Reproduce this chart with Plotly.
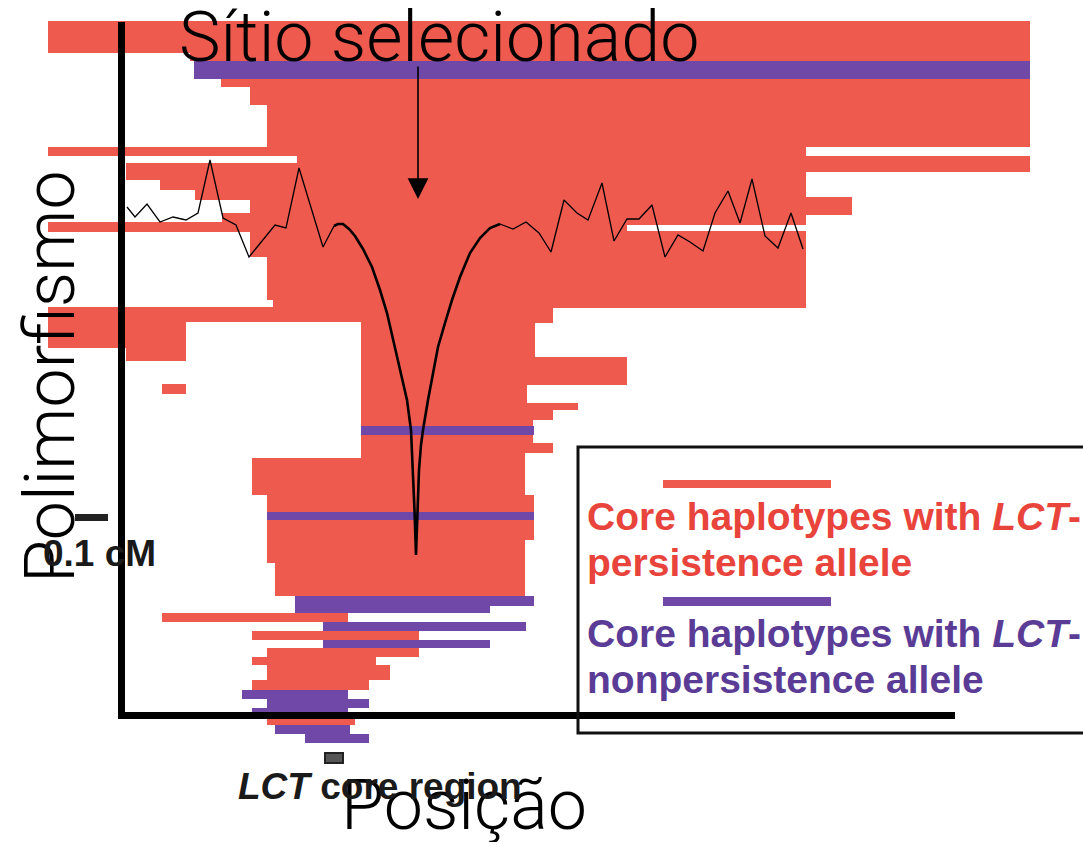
import plotly.graph_objects as go

# Haplotype rows: (top, bottom, start, end) in chart units
persist_rows = [
    (21, 53, 48, 1030), (53, 61, 190, 1030),
    (79, 87, 221, 1030), (87, 105, 250, 1030), (105, 147, 267, 1030),
    (147, 156, 48, 806), (156, 163, 297, 1030), (163, 172, 126, 1030),
    (172, 180, 126, 806), (180, 190, 160, 806), (190, 197, 195, 806),
    (197, 200, 195, 852), (200, 213, 250, 852), (213, 215, 222, 852),
    (215, 222, 222, 806), (222, 232, 48, 627), (222, 225, 627, 806),
    (231, 257, 250, 806), (257, 300, 267, 806), (300, 308, 273, 806),
    (307, 323, 48, 553), (323, 348, 48, 535), (348, 357, 126, 535),
    (357, 361, 126, 627), (361, 385, 250, 627), (384, 394, 162, 250),
    (385, 403, 250, 527), (403, 410, 250, 578), (410, 420, 250, 553),
    (420, 426, 250, 533), (435, 443, 250, 533), (443, 453, 250, 553),
    (453, 495, 252, 525), (495, 512, 267, 534), (520, 540, 267, 534),
    (540, 563, 267, 525), (563, 596, 275, 525), (613, 622, 162, 348),
    (631, 640, 252, 419), (648, 657, 267, 419), (657, 665, 252, 376),
    (665, 680, 267, 390), (680, 690, 252, 369), (713, 725, 267, 355),
]
nonpersist_rows = [
    (61, 79, 194, 1030), (426, 435, 250, 534), (512, 520, 267, 534),
    (596, 606, 295, 534), (606, 613, 295, 490), (622, 631, 323, 526),
    (640, 648, 323, 490), (690, 699, 242, 348), (699, 708, 267, 369),
    (708, 713, 252, 348), (725, 734, 275, 350), (734, 743, 305, 369),
]
core_region = (325, 343, 753, 763)

# Polymorphism profile along the region
poly_left_x = [127, 135, 147, 160, 173, 186, 198, 210, 223, 236, 249, 275, 286, 299, 323, 334]
poly_left_y = [207, 217, 204, 222, 217, 220, 213, 160, 218, 225, 257, 225, 228, 168, 247, 226]
dip_x = [334, 338, 343, 349, 355, 363, 372, 380, 387, 395, 401, 407, 411, 413, 414.5, 416,
         417.5, 419, 421, 423, 428, 433, 438, 445, 452, 460, 470, 480, 490, 500]
dip_y = [226, 224, 224, 229, 236, 249, 267, 290, 313, 347, 375, 400, 430, 470, 510, 555,
         510, 470, 445, 430, 400, 372, 347, 323, 300, 277, 253, 238, 228, 224]
poly_right_x = [500, 513, 526, 539, 551, 564, 577, 588, 602, 614, 627, 639, 652, 665, 678,
                690, 703, 715, 728, 740, 752, 765, 778, 791, 803]
poly_right_y = [224, 229, 222, 233, 252, 200, 213, 220, 183, 241, 219, 219, 205, 257, 235,
                242, 251, 213, 191, 223, 179, 236, 248, 213, 249]

RED = "#EF5A4F"
PURPLE = "#6F48A8"
RED_TXT = "#E8443C"
PURPLE_TXT = "#5A3C96"


def bar_trace(rows, color, name):
    return go.Bar(
        orientation="h",
        y=[(t + b) / 2 for t, b, s, e in rows],
        x=[e - s for t, b, s, e in rows],
        base=[s for t, b, s, e in rows],
        width=[b - t for t, b, s, e in rows],
        marker=dict(color=color, line=dict(width=0)),
        name=name, showlegend=False, hoverinfo="skip",
    )


fig = go.Figure()
fig.add_trace(bar_trace(persist_rows, RED, "persistence"))
fig.add_trace(bar_trace(nonpersist_rows, PURPLE, "nonpersistence"))

for xs, ys, w in [(poly_left_x, poly_left_y, 1.3), (dip_x, dip_y, 2.6), (poly_right_x, poly_right_y, 1.3)]:
    fig.add_trace(go.Scatter(x=xs, y=ys, mode="lines", line=dict(color="black", width=w),
                             showlegend=False, hoverinfo="skip"))

shapes = []
# occluding panel
shapes.append(dict(type="rect", x0=186, x1=361, y0=322, y1=458, fillcolor="white",
                   line=dict(width=0), layer="above"))
# axes
shapes.append(dict(type="line", x0=121.5, x1=121.5, y0=22, y1=719, line=dict(color="black", width=7), layer="above"))
shapes.append(dict(type="line", x0=118, x1=955, y0=715.5, y1=715.5, line=dict(color="black", width=7), layer="above"))
# scale bar
shapes.append(dict(type="rect", x0=75, x1=108, y0=514, y1=521, fillcolor="#222222", line=dict(width=0), layer="above"))
# core region marker
cx0, cx1, cy0, cy1 = core_region
shapes.append(dict(type="rect", x0=cx0, x1=cx1, y0=cy0, y1=cy1, fillcolor="#555555",
                   line=dict(color="#222222", width=2), layer="above"))
# legend box and samples
shapes.append(dict(type="rect", x0=578, x1=1095, y0=447, y1=733, fillcolor="rgba(0,0,0,0)",
                   line=dict(color="#111111", width=3), layer="above"))
shapes.append(dict(type="rect", x0=663, x1=831, y0=480, y1=488, fillcolor=RED, line=dict(width=0), layer="above"))
shapes.append(dict(type="rect", x0=663, x1=831, y0=597, y1=606, fillcolor=PURPLE, line=dict(width=0), layer="above"))

thin = dict(family="Roboto", size=70, color="black", weight=300)
bold = dict(family="Liberation Sans", size=39, weight="bold")

annotations = [
    dict(text="Sítio selecionado", x=439, y=37, font=thin),
    dict(text="Posição", x=464, y=805, font=thin),
    dict(text="Polimorfismo", x=50, y=377, textangle=-90, font=thin),
    dict(text="0.1 cM", x=99, y=553, font=dict(family="Liberation Sans", size=37, weight="bold", color="#1a1a1a")),
    dict(text="<i>LCT</i> core region", x=380, y=786,
         font=dict(family="Liberation Sans", size=37, weight="bold", color="#1a1a1a")),
    dict(text="Core haplotypes with <i>LCT</i>-", x=585, y=516, xanchor="left", font=dict(bold, color=RED_TXT)),
    dict(text="persistence allele", x=585, y=562, xanchor="left", font=dict(bold, color=RED_TXT)),
    dict(text="Core haplotypes with <i>LCT</i>-", x=585, y=633, xanchor="left", font=dict(bold, color=PURPLE_TXT)),
    dict(text="nonpersistence allele", x=585, y=679, xanchor="left", font=dict(bold, color=PURPLE_TXT)),
]
for a in annotations:
    a.setdefault("xanchor", "center")
    a.update(xref="x", yref="y", showarrow=False, yanchor="middle")

annotations.append(dict(x=418, y=199, ax=418, ay=65, xref="x", yref="y", axref="x", ayref="y",
                        showarrow=True, arrowhead=2, arrowsize=2.6, arrowwidth=1.6,
                        arrowcolor="black", text=""))

fig.update_layout(
    width=1083, height=842,
    margin=dict(l=0, r=0, t=0, b=0),
    paper_bgcolor="white", plot_bgcolor="white",
    barmode="overlay",
    xaxis=dict(range=[0, 1083], visible=False, fixedrange=True),
    yaxis=dict(range=[842, 0], visible=False, fixedrange=True),
    shapes=shapes, annotations=annotations,
)

fig.write_html("out.html")
